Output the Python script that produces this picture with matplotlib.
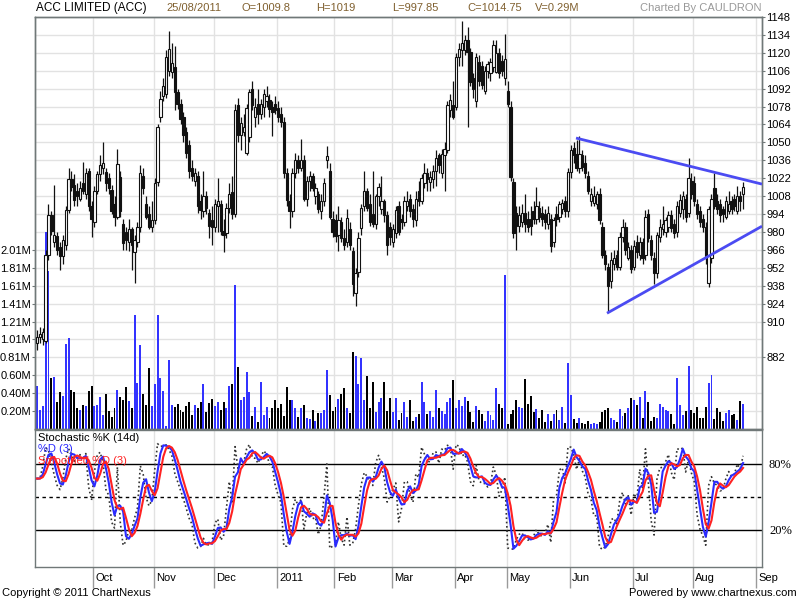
import matplotlib
matplotlib.use('Agg')
import matplotlib.pyplot as plt
import matplotlib.transforms as mtransforms
import numpy as np
import pandas as pd

plt.rcParams['font.family'] = ['Liberation Sans', 'DejaVu Sans']

# month labels and index of first trading day of each month
months = ['Oct', 'Nov', 'Dec', '2011', 'Feb', 'Mar', 'Apr', 'May', 'Jun', 'Jul', 'Aug', 'Sep']
month_start = [20, 41, 62, 84, 104, 124, 146, 164, 186, 208, 229, 251]

# daily prices, 03/09/2010 .. 25/08/2011
opens = [893, 898, 896, 895, 962, 993, 972, 977, 968, 961, 970, 997, 1021, 1017, 1012, 1006, 1018, 1010, 1028, 1000,
         988, 1012, 1025, 1030, 1027, 1022, 1013, 1002, 992, 1023, 986, 980, 972, 982, 964, 972, 984, 1024, 1002, 994,
         984, 989, 1019, 1070, 1086, 1088, 1106, 1105, 1109, 1089, 1080, 1070, 1058, 1048, 1030, 1020, 1024, 1004, 996, 1008,
         995, 989, 984, 1000, 1002, 981, 979, 999, 1011, 994, 1079, 1056, 1058, 1042, 1054, 1092, 1070, 1080, 1072, 1078,
         1082, 1083, 1078, 1080, 1077, 1072, 1066, 1026, 1004, 996, 1026, 1036, 1030, 1036, 1006, 1020, 1024, 1008, 1010, 996,
         1004, 1036, 1028, 990, 989, 978, 988, 975, 972, 982, 965, 932, 949, 983, 1000, 1012, 1002, 994, 986, 1008,
         998, 1004, 993, 984, 972, 979, 1000, 990, 988, 1000, 1006, 998, 989, 1012, 1004, 1018, 1026, 1019, 1021, 1028,
         1040, 1026, 1040, 1044, 1075, 1079, 1078, 1117, 1122, 1122, 1130, 1121, 1100, 1082, 1113, 1110, 1090, 1106, 1104, 1109,
         1105, 1120, 1114, 1100, 1090, 1078, 1019, 995, 985, 988, 995, 990, 990, 996, 990, 999, 995, 994, 986, 990,
         972, 994, 992, 998, 1004, 996, 1027, 1046, 1041, 1030, 1040, 1034, 1024, 1004, 1003, 1002, 1010, 984, 962, 953,
         942, 955, 962, 953, 976, 984, 960, 966, 953, 972, 962, 972, 962, 994, 974, 960, 948, 976, 982, 980,
         984, 993, 986, 980, 995, 998, 1006, 995, 1020, 1018, 1002, 996, 990, 984, 940, 960, 1014, 1004, 1002, 998,
         992, 996, 1004, 1006, 996, 1008, 1009.8]
highs = [903, 906, 905, 966, 1002, 996, 1017, 980, 972, 978, 1000, 1030, 1028, 1025, 1018, 1020, 1035, 1030, 1030, 1004,
         1016, 1028, 1040, 1050, 1030, 1026, 1017, 1008, 1045, 1028, 990, 984, 990, 984, 978, 988, 1032, 1030, 1008, 1000,
         1004, 1022, 1064, 1090, 1100, 1122, 1137, 1128, 1125, 1092, 1084, 1074, 1062, 1052, 1036, 1030, 1028, 1010, 1028, 1012,
         998, 1000, 1006, 1022, 1005, 990, 1003, 1018, 1024, 1080, 1085, 1070, 1072, 1080, 1092, 1098, 1085, 1092, 1084, 1092,
         1094, 1088, 1082, 1086, 1082, 1078, 1070, 1030, 1010, 1030, 1042, 1040, 1053, 1040, 1024, 1028, 1026, 1018, 1012, 1010,
         1022, 1047, 1034, 996, 994, 1000, 992, 982, 998, 988, 968, 952, 980, 1002, 1028, 1014, 1010, 1028, 1010, 1018,
         1024, 1006, 996, 988, 986, 1000, 1004, 994, 1008, 1012, 1010, 1002, 1012, 1020, 1025, 1034, 1030, 1028, 1032, 1044,
         1042, 1045, 1050, 1082, 1088, 1098, 1120, 1128, 1145, 1134, 1140, 1124, 1104, 1120, 1118, 1114, 1110, 1114, 1116, 1130,
         1130, 1124, 1118, 1135, 1098, 1082, 1022, 1000, 1000, 1002, 1010, 996, 1000, 1004, 1015, 1004, 1000, 998, 1000, 994,
         992, 1000, 1004, 1006, 1008, 1030, 1048, 1050, 1052, 1055, 1044, 1040, 1028, 1014, 1016, 1012, 1014, 988, 966, 956,
         964, 966, 966, 980, 990, 988, 972, 970, 974, 978, 976, 975, 997, 998, 978, 964, 980, 990, 1000, 992,
         996, 997, 990, 1004, 1010, 1012, 1010, 1038, 1026, 1024, 1006, 1000, 994, 988, 1000, 1010, 1026, 1010, 1006, 1000,
         1008, 1012, 1008, 1010, 1016, 1012, 1019]
lows = [888, 893, 892, 893, 958, 978, 968, 962, 950, 955, 966, 995, 1012, 1000, 1000, 1004, 1010, 1006, 996, 976,
        984, 1010, 1020, 1025, 1012, 1010, 994, 985, 990, 992, 966, 966, 965, 950, 940, 968, 980, 1010, 990, 982,
        980, 986, 1016, 1066, 1082, 1085, 1102, 1100, 1075, 1076, 1064, 1050, 1038, 1022, 1020, 1016, 995, 990, 992, 994,
        975, 970, 980, 980, 978, 964, 975, 995, 990, 992, 1050, 1044, 1055, 1040, 1050, 1075, 1062, 1064, 1068, 1070,
        1078, 1070, 1055, 1072, 1066, 1062, 1022, 1000, 983, 992, 1022, 1026, 1028, 1004, 1000, 1012, 1012, 1002, 995, 990,
        1000, 1030, 990, 976, 972, 965, 972, 966, 968, 966, 930, 922, 945, 978, 996, 996, 985, 984, 982, 1000,
        994, 988, 962, 970, 968, 975, 978, 982, 985, 996, 992, 984, 985, 1000, 1002, 1014, 1012, 1012, 1014, 1016,
        1026, 1022, 1012, 1042, 1070, 1068, 1075, 1110, 1110, 1118, 1062, 1094, 1085, 1078, 1094, 1092, 1088, 1100, 1098, 1105,
        1104, 1100, 1102, 1095, 1078, 1020, 975, 966, 980, 984, 980, 980, 978, 986, 986, 988, 985, 982, 982, 964,
        968, 985, 988, 994, 992, 992, 1022, 1034, 1028, 1026, 1028, 1022, 1010, 1000, 1000, 998, 986, 960, 950, 918,
        936, 950, 950, 950, 972, 962, 958, 948, 950, 960, 958, 955, 958, 972, 958, 939, 944, 972, 978, 976,
        980, 980, 975, 976, 992, 990, 988, 992, 1006, 1000, 990, 984, 980, 955, 937, 956, 998, 994, 988, 988,
        990, 994, 994, 996, 994, 996, 997.85]
closes = [898, 900, 902, 962, 993, 981, 978, 966, 961, 974, 997, 1021, 1015, 1005, 1008, 1014, 1012, 1026, 1000, 990,
          1012, 1025, 1032, 1034, 1018, 1014, 996, 992, 1033, 996, 971, 974, 982, 970, 974, 984, 1026, 1014, 992, 984,
          989, 1018, 1062, 1084, 1094, 1117, 1123, 1112, 1089, 1080, 1068, 1056, 1042, 1028, 1024, 1026, 1000, 997, 1008, 999,
          985, 984, 1002, 1004, 981, 978, 999, 1010, 994, 1075, 1056, 1065, 1062, 1077, 1089, 1079, 1078, 1072, 1080, 1088,
          1086, 1076, 1074, 1075, 1070, 1066, 1026, 1005, 996, 1026, 1036, 1030, 1036, 1006, 1020, 1024, 1014, 1014, 998, 1004,
          1018, 1039, 992, 980, 977, 989, 975, 970, 991, 970, 939, 948, 975, 999, 1012, 999, 988, 986, 1008, 1015,
          1004, 993, 970, 976, 982, 997, 980, 988, 1004, 1004, 996, 990, 1006, 1004, 1022, 1026, 1021, 1023, 1028, 1038,
          1032, 1041, 1045, 1079, 1083, 1070, 1117, 1123, 1128, 1130, 1121, 1097, 1092, 1117, 1098, 1095, 1106, 1111, 1113, 1126,
          1120, 1104, 1106, 1115, 1080, 1023, 979, 985, 993, 995, 986, 984, 985, 990, 1000, 992, 990, 988, 995, 969,
          989, 990, 1002, 1003, 996, 1027, 1044, 1040, 1030, 1041, 1031, 1026, 1012, 1010, 1008, 1010, 989, 962, 955, 938,
          958, 960, 953, 976, 984, 966, 968, 951, 969, 964, 972, 960, 992, 975, 962, 948, 978, 984, 986, 989,
          993, 983, 979, 1000, 1005, 1008, 992, 1022, 1010, 1004, 994, 988, 984, 960, 998, 1006, 1000, 998, 993, 994,
          1004, 1002, 998, 1000, 1008, 1004, 1014.75]
# volume in millions
volumes = [0.485, 0.209, 0.254, 2.21, 1.78, 0.578, 0.589, 0.309, 0.421, 0.373, 0.954, 1.018, 0.44, 0.42, 0.235, 0.216,
           0.272, 0.254, 0.432, 0.485, 0.261, 0.272, 0.354, 0.16, 0.395, 0.205, 0.13, 0.231, 0.44, 0.354, 0.328, 0.477,
           0.32, 0.231, 1.279, 0.522, 0.943, 0.395, 0.272, 0.69, 0.254, 0.507, 1.279, 0.57, 0.429, 0.03, 0.775, 0.272,
           0.242, 0.283,
           0.216, 0.19, 0.261, 0.306, 0.16, 0.272, 0.231, 0.306, 0.507, 0.194, 0.291, 0.336, 0.261, 0.306, 0.216, 0.306,
           0.231, 0.485, 0.507, 1.614, 0.701, 0.328, 0.362, 0.641, 0.418, 0.149, 0.25, 0.082, 0.529, 0.16, 0.25, 0.127,
           0.239, 0.328, 0.239, 0.283, 0.149, 0.473, 0.328, 0.328, 0.239, 0.138, 0.239, 0.272, 0.127, 0.116, 0.216, 0.093,
           0.183, 0.183,
           0.216, 0.664, 0.384, 0.205, 0.25, 0.339, 0.395, 0.462, 0.239, 0.183, 0.865, 0.82, 0.507, 0.798, 0.328, 0.596,
           0.239, 0.529, 0.194, 0.306, 0.35, 0.529, 0.205, 0.35, 0.194, 0.35, 0.104, 0.183, 0.306, 0.138, 0.328, 0.093,
           0.138, 0.171, 0.529, 0.306, 0.171, 0.205, 0.138, 0.44, 0.239, 0.205, 0.171, 0.306, 0.35, 0.552, 0.239, 0.328,
           0.261,
           0.362, 0.317, 0.194, 0.082, 0.261, 0.216, 0.171, 0.093, 0.205, 0.16, 0.104, 0.462, 0.283, 0.239, 1.726, 0.06,
           0.171, 0.216, 0.328, 0.25, 0.239, 0.563, 0.283, 0.373, 0.194, 0.227, 0.127, 0.216, 0.082, 0.171, 0.093, 0.171,
           0.216, 0.104, 0.25, 0.071, 0.742, 0.384, 0.116, 0.071, 0.127, 0.071, 0.06, 0.093, 0.06, 0.071, 0.06, 0.082,
           0.194, 0.216,
           0.231, 0.127, 0.104, 0.082, 0.227, 0.149, 0.183, 0.239, 0.35, 0.328, 0.272, 0.362, 0.127, 0.429, 0.306, 0.093,
           0.138, 0.123, 0.283, 0.25, 0.216, 0.205, 0.171, 0.06, 0.574, 0.272, 0.16, 0.2, 0.708, 0.216, 0.183, 0.25,
           0.127, 0.127, 0.25, 0.518, 0.608, 0.116, 0.239, 0.194, 0.093, 0.183, 0.216, 0.16, 0.171, 0.104, 0.317, 0.283]

# hand-drawn triangle (day index, price)
trend_upper_x = [187.8, 252.6]
trend_upper_y = [1053.4, 1017.4]
trend_lower_x = [198.6, 252.6]
trend_lower_y = [916.5, 984.5]

df = pd.DataFrame({'o': opens, 'h': highs, 'l': lows, 'c': closes, 'v': volumes})
n = len(df)
idx = np.arange(n)
up = (df['c'] >= df['o']).values

# stochastic %K(14), %D(3), smoothed %D(3)
hh = df['h'].rolling(14, min_periods=1).max()
ll = df['l'].rolling(14, min_periods=1).min()
pct_k = 100 * (df['c'] - ll) / (hh - ll)
pct_d = pct_k.rolling(3, min_periods=1).mean()
pct_sd = pct_d.rolling(3, min_periods=1).mean()

W, H = 800.0, 600.0
def box(l, t, r, b):
    return [l / W, 1 - b / H, (r - l) / W, (b - t) / H]

fig = plt.figure(figsize=(8, 6), dpi=100)
axv = fig.add_axes(box(35, 17, 762, 429))
axs = fig.add_axes(box(35, 429.5, 762, 567))

grid_c = '#e2e2e2'
spine_c = '#707878'
blue = '#3333ff'
xmin, xmax = -0.7, 252.6
pmin, pmax = 826, 1148
vstep = 0.2013  # million shares per price gridline (14)

# volume panel (left axis)
axv.set_xlim(xmin, xmax)
axv.set_ylim(0, (pmax - pmin) / 14 * vstep)
for k in range(1, 23):
    axv.axhline(k * vstep, color=grid_c, lw=1, zorder=0)
for m in month_start:
    axv.axvline(m - 0.4, color=grid_c, lw=1, zorder=0)
axv.bar(idx, df['v'], width=0.68, color=[blue if u else '#000000' for u in up], zorder=2)
vt = [k * vstep for k in range(1, 11)]
axv.set_yticks(vt)
axv.set_yticklabels(['%.2fM' % t for t in vt])
axv.tick_params(axis='y', labelsize=8, length=2, pad=1, color=spine_c)
axv.set_xticks([])

# price panel (right axis)
axp = axv.twinx()
axp.set_ylim(pmin, pmax)
axp.set_xlim(xmin, xmax)
axp.vlines(idx, df['l'], df['h'], color='#111111', lw=0.9, zorder=3)
body_lo = np.minimum(df['o'], df['c'])
body_h = np.maximum(np.abs(df['c'] - df['o']), 0.8)
axp.bar(idx, body_h, bottom=body_lo, width=0.8,
        color=['#ffffff' if u else '#111111' for u in up],
        edgecolor='#111111', linewidth=0.8, zorder=4)
axp.plot(trend_upper_x, trend_upper_y, color='#4b4bf2', lw=2, zorder=5, solid_capstyle='butt')
axp.plot(trend_lower_x, trend_lower_y, color='#4b4bf2', lw=2, zorder=5, solid_capstyle='butt')
pt = [882] + list(range(910, 1149, 14))
axp.set_yticks(pt)
axp.set_yticklabels([str(t) for t in pt])
axp.tick_params(axis='y', labelsize=8, length=2, pad=1, color=spine_c)
axp.set_xticks([])

for a in (axv, axp, axs):
    for s in a.spines.values():
        s.set_color(spine_c)
        s.set_linewidth(1)

# stochastic panel
axs.set_xlim(xmin, xmax)
axs.set_ylim(-13.8, 111.3)
for m in month_start:
    axs.axvline(m - 0.4, color=grid_c, lw=1, zorder=0)
axs.axhline(80, color='black', lw=1, zorder=1)
axs.axhline(20, color='black', lw=1, zorder=1)
axs.axhline(50, color='black', lw=1, ls=(0, (2.5, 2.5)), zorder=1)
axs.plot(idx, pct_k, color='#333333', lw=1.2, ls=(0, (1, 1.6)), zorder=2)
axs.plot(idx, pct_d, color='#2b2bff', lw=1.5, zorder=3)
axs.plot(idx, pct_sd, color='#ff2222', lw=1.5, zorder=4)
axs.yaxis.tick_right()
axs.set_yticks([20, 80])
axs.set_yticklabels(['20%', '80%'], family='Liberation Serif', fontsize=9)
axs.tick_params(axis='y', length=0, pad=5)
axs.set_xticks([m - 0.4 for m in month_start])
axs.set_xticklabels([''] * len(month_start))
axs.tick_params(axis='x', length=15, width=1, color='#9a9a9a', direction='out')
trans = mtransforms.blended_transform_factory(axs.transData, axs.transAxes)
for m, name in zip(month_start, months):
    axs.text(m + 0.4, -0.08, name, transform=trans, ha='left', va='center', fontsize=8)

axs.text(0.004, 0.935, 'Stochastic %K (14d)', transform=axs.transAxes, fontsize=8, va='center')
axs.text(0.004, 0.855, '%D (3)', transform=axs.transAxes, fontsize=8, va='center', color='#2b2bff')
axs.text(0.004, 0.77, 'Smoothed %D (3)', transform=axs.transAxes, fontsize=8, va='center', color='#ff2222')

# header and footer
hy = 1 - 8 / H
fig.text(36 / W, hy, 'ACC LIMITED (ACC)', fontsize=8.5, va='center')
brown = '#80602f'
for xpx, s in [(166, '25/08/2011'), (241, 'O=1009.8'), (316, 'H=1019'), (392, 'L=997.85'),
               (467, 'C=1014.75'), (535, 'V=0.29M')]:
    fig.text(xpx / W, hy, s, fontsize=8, va='center', color=brown)
fig.text(761 / W, hy, 'Charted By CAULDRON', fontsize=8, va='center', ha='right', color='#999999')
fy = 1 - 593 / H
fig.text(2 / W, fy, 'Copyright \u00a9 2011 ChartNexus', fontsize=8, va='center')
fig.text(797 / W, fy, 'Powered by www.chartnexus.com', fontsize=8, va='center', ha='right')

fig.savefig('out.png', dpi=100)
